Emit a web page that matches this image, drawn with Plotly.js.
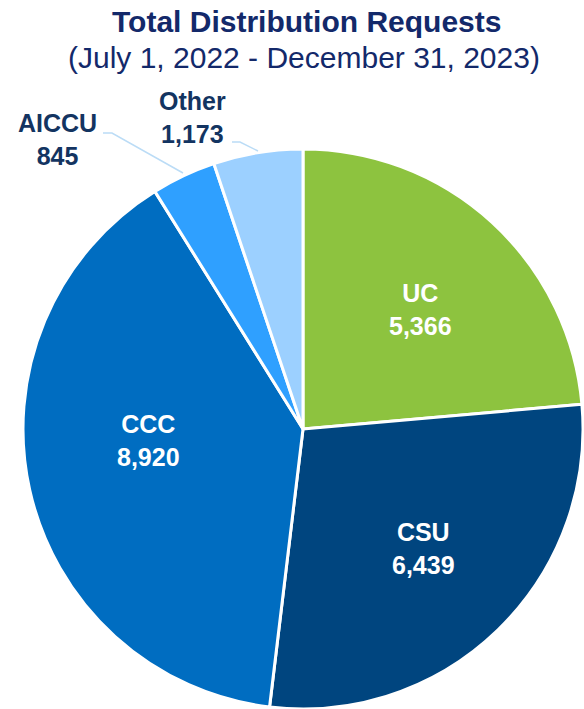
<!DOCTYPE html>
<html>
<head>
<meta charset="utf-8">
<script src="https://cdn.plot.ly/plotly-3.0.1.min.js"></script>
<style>
html,body{margin:0;padding:0;background:#fff;overflow:hidden;}
#chart{width:584px;height:709px;}
</style>
</head>
<body>
<div id="chart"></div>
<script>
// ---- data ----
var categories = ["UC", "CSU", "CCC", "AICCU", "Other"];
var requests = [5366, 6439, 8920, 845, 1173];
var sliceColors = ["#8DC33F", "#00457F", "#006DC1", "#2FA0FF", "#9CD0FF"];
var titleText = "Total Distribution Requests";
var subtitleText = "(July 1, 2022 - December 31, 2023)";

// ---- layout geometry (pixels) ----
var W = 584, H = 709;
var M = {l: 23, r: 1, t: 149, b: 0};
var pw = W - M.l - M.r, ph = H - M.t - M.b;
function px(x){ return (x - M.l) / pw; }
function py(y){ return 1 - (y - M.t) / ph; }

function fmt(v){ return v.toLocaleString("en-US"); }

var trace = {
  type: "pie",
  labels: categories,
  values: requests,
  sort: false,
  direction: "clockwise",
  rotation: 0,
  marker: {colors: sliceColors, line: {color: "#ffffff", width: 3}},
  textinfo: "none",
  hoverinfo: "label+value",
  showlegend: false
};

var FONT = "Liberation Sans, Arial, sans-serif";
// label placement (pixel centres of each label block)
var labelPlaces = [
  {i: 0, x: 420, y: 309, color: "#ffffff"},
  {i: 1, x: 423, y: 548, color: "#ffffff"},
  {i: 2, x: 148, y: 440, color: "#ffffff"},
  {i: 3, x: 57, y: 139, color: "#133461"},
  {i: 4, x: 192, y: 118, color: "#133461"}
];
var annotations = [
  {text: "<b>" + titleText + "</b>", xref: "paper", yref: "paper", x: px(306), y: py(22),
   xanchor: "center", yanchor: "middle", showarrow: false,
   font: {family: FONT, size: 30, color: "#13296A"}},
  {text: subtitleText, xref: "paper", yref: "paper", x: px(304), y: py(58),
   xanchor: "center", yanchor: "middle", showarrow: false,
   font: {family: FONT, size: 30, color: "#13296A"}}
];
labelPlaces.forEach(function(o){
  annotations.push({
    text: "<b>" + categories[o.i] + "<br>" + fmt(requests[o.i]) + "</b>",
    xref: "paper", yref: "paper", x: px(o.x), y: py(o.y),
    xanchor: "center", yanchor: "middle", showarrow: false,
    font: {family: FONT, size: 25, color: o.color}
  });
});

function pathPts(pts){
  return pts.map(function(p, k){ return (k ? "L" : "M") + px(p[0]) + "," + py(p[1]); }).join(" ");
}
var leaderColor = "#BBDCF6";
var shapes = [
  {type: "path", xref: "paper", yref: "paper", path: pathPts([[103,133],[112,133],[183,173]]),
   line: {color: leaderColor, width: 1.5}},
  {type: "path", xref: "paper", yref: "paper", path: pathPts([[232,142],[240,142],[258,151]]),
   line: {color: leaderColor, width: 1.5}}
];

var layout = {
  width: W, height: H,
  margin: M,
  paper_bgcolor: "#ffffff",
  plot_bgcolor: "#ffffff",
  annotations: annotations,
  shapes: shapes,
  showlegend: false
};

Plotly.newPlot("chart", [trace], layout, {displayModeBar: false, staticPlot: true});
</script>
</body>
</html>
